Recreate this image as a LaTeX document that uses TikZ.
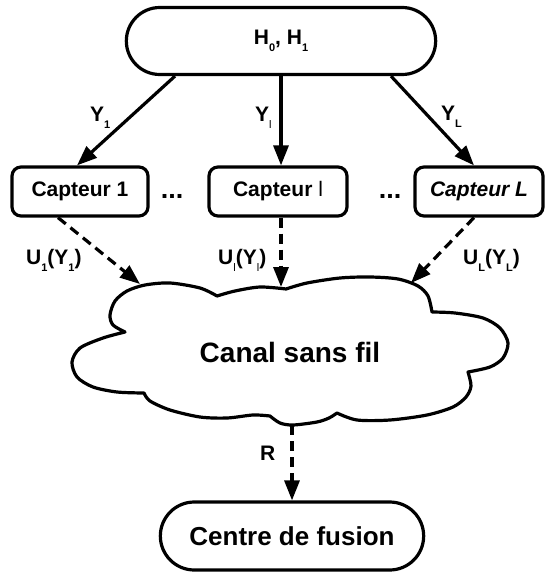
\documentclass[tikz,border=0pt]{standalone}
\usepackage{fontspec}
\setmainfont{Liberation Sans}
\usepackage{tikz}
\usetikzlibrary{positioning,shapes.misc,arrows.meta}

\newcommand\idx[1]{\raisebox{-7pt}{\fontsize{11}{11}\selectfont #1}}

\tikzset{
  >={Triangle[length=20pt,width=15pt]},
  every node/.style={font=\bfseries\fontsize{21}{24}\selectfont},
  stadium/.style={draw, rounded rectangle, line width=3.2pt},
  capteur/.style={draw, rectangle, rounded corners=9pt, line width=3.2pt, minimum width=136pt, minimum height=49pt},
  lbl/.style={inner sep=0pt, anchor=base west},
  fleche/.style={->, line width=3.2pt},
  sansfil/.style={->, line width=3.2pt, dash pattern=on 10pt off 6pt},
  nuage/.style={line width=3.2pt, line join=round}
}

\begin{document}
\begin{tikzpicture}[x=1pt, y=-1pt]
  \useasboundingbox (0,0) rectangle (544,572);
  \node[stadium, minimum width=316pt, minimum height=67pt] (HY) at (281,41) {H\idx{0}, H\idx{1}};
  \node[capteur] (C1) at (80,191.5) {Capteur 1};
  \node[capteur, minimum width=138pt] (Cl) at (278,191.5) {Capteur {\mdseries l}};
  \node[capteur, minimum width=128pt] (CL) at (479,191.5) {\itshape Capteur L};
  \node[font=\bfseries\fontsize{27}{30}\selectfont] (D1) at (172,196) {...};
  \node[font=\bfseries\fontsize{27}{30}\selectfont] (D2) at (390,196) {...};

  \draw[nuage] plot[smooth] coordinates {(125,332) (113,325) (110,315) (115,301) (127,291) (145,285) (170,283) (200,288) (217,296)}
    -- plot[smooth] coordinates {(217,296) (235,291) (260,287) (286,289)}
    -- plot[smooth] coordinates {(286,289) (307,283) (340,278) (370,277) (398,279) (418,286) (428,296) (432,312)}
    -- plot[smooth] coordinates {(432,312) (455,313) (483,318) (500,328) (508,343) (503,358) (490,367) (468,372)}
    -- plot[smooth] coordinates {(468,372) (471,386) (466,397) (453,407) (427,415) (390,420) (357,420) (337,413)}
    -- plot[smooth] coordinates {(337,413) (329,418) (317,422) (293,425) (280,423) (270,416)}
    -- plot[smooth] coordinates {(270,416) (253,415) (227,418) (200,417) (170,410) (150,401) (144,393)}
    -- plot[smooth] coordinates {(144,393) (117,392) (93,387) (77,377) (72,362) (80,348) (103,338) (125,332)}
    -- cycle;
  \node[font=\bfseries\fontsize{28}{32}\selectfont] (CSF) at (290,352) {Canal sans fil};
  \coordinate (N1) at (140,284);
  \coordinate (N2) at (281,287);
  \coordinate (N3) at (411,283);
  \coordinate (N4) at (292,425);

  \node[stadium, minimum width=270pt, minimum height=68pt, font=\bfseries\fontsize{26}{30}\selectfont] (CF) at (292,536) {Centre de fusion};

  \draw[fleche] ([xshift=-106pt]HY.south) -- ([xshift=-3pt]C1.north);
  \draw[fleche] (HY.south) -- (HY.south |- Cl.north);
  \draw[fleche] ([xshift=110pt]HY.south) -- ([xshift=-5pt]CL.north);
  \draw[sansfil] ([xshift=-22pt]C1.south) -- (N1);
  \draw[sansfil] ([xshift=3pt]Cl.south) -- (N2);
  \draw[sansfil] ([xshift=-5pt]CL.south) -- (N3);
  \draw[sansfil] (N4) -- (CF.north);

  \node[lbl] (LY1) at (90,122) {Y\idx{1}};
  \node[lbl] (LYl) at (255,122) {Y\idx{\mdseries l}};
  \node[lbl] (LYL) at (441,121) {Y\idx{L}};
  \node[lbl] (LU1) at (26,264) {U\idx{1}(Y\idx{1})};
  \node[lbl] (LUl) at (218,264) {U\idx{\mdseries l}(Y\idx{\mdseries l})};
  \node[lbl] (LUL) at (463,264) {U\idx{L}(Y\idx{L})};
  \node[lbl] (LR) at (260,460) {R};
\end{tikzpicture}
\end{document}
